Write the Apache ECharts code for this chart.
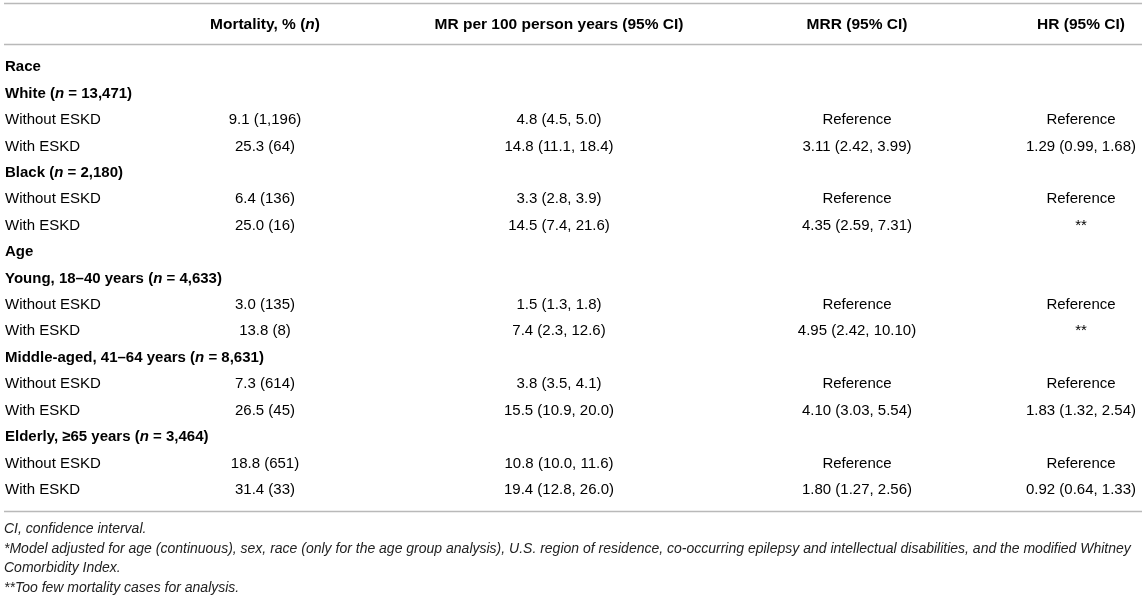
<!DOCTYPE html>
<html>
<head>
<meta charset="utf-8">
<script src="https://cdn.jsdelivr.net/npm/echarts@6/dist/echarts.min.js"></script>
<style>
html, body { margin: 0; padding: 0; background: #fff; }
#main { width: 1146px; height: 600px; }
</style>
</head>
<body>
<div id="main"></div>
<script>
// column titles
var headers = ['', 'Mortality, % (n)', 'MR per 100 person years (95% CI)', 'MRR (95% CI)', 'HR (95% CI)'];

// row labels and their kind
var rowLabels = [
    'Race',
    'White (n = 13,471)', 'Without ESKD', 'With ESKD',
    'Black (n = 2,180)', 'Without ESKD', 'With ESKD',
    'Age',
    'Young, 18–40 years (n = 4,633)', 'Without ESKD', 'With ESKD',
    'Middle-aged, 41–64 years (n = 8,631)', 'Without ESKD', 'With ESKD',
    'Elderly, ≥65 years (n = 3,464)', 'Without ESKD', 'With ESKD'
];
var rowBold = [1, 1, 0, 0, 1, 0, 0, 1, 1, 0, 0, 1, 0, 0, 1, 0, 0];

// values per column
var mortality = ['', '', '9.1 (1,196)', '25.3 (64)', '', '6.4 (136)', '25.0 (16)', '', '', '3.0 (135)', '13.8 (8)', '', '7.3 (614)', '26.5 (45)', '', '18.8 (651)', '31.4 (33)'];
var mrPer100 = ['', '', '4.8 (4.5, 5.0)', '14.8 (11.1, 18.4)', '', '3.3 (2.8, 3.9)', '14.5 (7.4, 21.6)', '', '', '1.5 (1.3, 1.8)', '7.4 (2.3, 12.6)', '', '3.8 (3.5, 4.1)', '15.5 (10.9, 20.0)', '', '10.8 (10.0, 11.6)', '19.4 (12.8, 26.0)'];
var mrr = ['', '', 'Reference', '3.11 (2.42, 3.99)', '', 'Reference', '4.35 (2.59, 7.31)', '', '', 'Reference', '4.95 (2.42, 10.10)', '', 'Reference', '4.10 (3.03, 5.54)', '', 'Reference', '1.80 (1.27, 2.56)'];
var hr = ['', '', 'Reference', '1.29 (0.99, 1.68)', '', 'Reference', '**', '', '', 'Reference', '**', '', 'Reference', '1.83 (1.32, 2.54)', '', 'Reference', '0.92 (0.64, 1.33)'];

var footnotes = [
    'CI, confidence interval.',
    '*Model adjusted for age (continuous), sex, race (only for the age group analysis), U.S. region of residence, co-occurring epilepsy and intellectual disabilities, and the modified Whitney',
    'Comorbidity Index.',
    '**Too few mortality cases for analysis.'
];

var columns = [rowLabels, mortality, mrPer100, mrr, hr];

// layout
var colX = [5, 265, 559, 857, 1081];
var FONT = '"Liberation Sans", Arial, Helvetica, sans-serif';
var TEXT = '#222';

// turn a plain string into rich text, with standalone "n" in italic
function richify(str, bold, head) {
    var parts = str.split(/\b(n)\b/);
    var out = '';
    var pre = head ? 'h' : '';
    for (var i = 0; i < parts.length; i++) {
        if (parts[i] === '') continue;
        if (parts[i] === 'n') {
            out += '{' + pre + (bold ? 'bi' : 'i') + '|n}';
        } else {
            out += '{' + pre + (bold ? 'b' : 'r') + '|' + parts[i] + '}';
        }
    }
    return out;
}

var richStyles = {
    r: { fontFamily: FONT, fontSize: 15, fontWeight: 'normal', color: TEXT },
    i: { fontFamily: FONT, fontSize: 15, fontStyle: 'italic', color: TEXT },
    b: { fontFamily: FONT, fontSize: 15, fontWeight: 'bold', color: TEXT },
    bi: { fontFamily: FONT, fontSize: 15, fontWeight: 'bold', fontStyle: 'italic', color: TEXT },
    hb: { fontFamily: FONT, fontSize: 15.5, fontWeight: 'bold', color: TEXT },
    hbi: { fontFamily: FONT, fontSize: 15.5, fontWeight: 'bold', fontStyle: 'italic', color: TEXT }
};

var rowIdx = rowLabels.map(function (d, i) { return 'r' + i; });

var bodyData = [];
for (var c = 0; c < columns.length; c++) {
    for (var r = 0; r < rowLabels.length; r++) {
        if (columns[c][r] !== '') bodyData.push([colX[c], r, c]);
    }
}
var headData = [];
for (var h = 1; h < headers.length; h++) {
    headData.push([colX[h], 0, h]);
}

function renderBody(params, api) {
    var col = api.value(2), row = api.value(1);
    var pt = api.coord([api.value(0), row]);
    var str = columns[col][row];
    var bold = col === 0 && rowBold[row] === 1;
    return {
        type: 'text',
        x: pt[0],
        y: pt[1],
        style: {
            text: richify(str, bold, false),
            rich: richStyles,
            align: col === 0 ? 'left' : 'center',
            verticalAlign: 'middle'
        }
    };
}

function renderHead(params, api) {
    var col = api.value(2);
    var pt = api.coord([api.value(0), 0]);
    return {
        type: 'text',
        x: pt[0],
        y: pt[1],
        style: {
            text: richify(headers[col], true, true),
            rich: richStyles,
            align: 'center',
            verticalAlign: 'middle'
        }
    };
}

var chart = echarts.init(document.getElementById('main'));

var ruleStyle = { stroke: '#b9b9b9', lineWidth: 1.5 };
var graphics = [
    { type: 'line', shape: { x1: 4, y1: 3.5, x2: 1142, y2: 3.5 }, style: ruleStyle, silent: true },
    { type: 'line', shape: { x1: 4, y1: 44.5, x2: 1142, y2: 44.5 }, style: ruleStyle, silent: true },
    { type: 'line', shape: { x1: 4, y1: 511.5, x2: 1142, y2: 511.5 }, style: ruleStyle, silent: true }
];
var footY = [529.5, 549, 568.5, 588];
footnotes.forEach(function (t, i) {
    graphics.push({
        type: 'text',
        x: 4,
        y: footY[i],
        silent: true,
        style: {
            text: t,
            fill: TEXT,
            font: 'italic 14px ' + FONT,
            verticalAlign: 'middle'
        }
    });
});

var option = {
    animation: false,
    backgroundColor: '#fff',
    grid: [
        { left: 0, right: 0, top: 5, height: 40 },
        { left: 0, right: 0, top: 54, height: 449 }
    ],
    xAxis: [
        { type: 'value', gridIndex: 0, min: 0, max: 1146, show: false },
        { type: 'value', gridIndex: 1, min: 0, max: 1146, show: false }
    ],
    yAxis: [
        { type: 'category', gridIndex: 0, data: ['head'], show: false },
        { type: 'category', gridIndex: 1, data: rowIdx, inverse: true, show: false }
    ],
    series: [
        {
            type: 'custom',
            xAxisIndex: 0,
            yAxisIndex: 0,
            renderItem: renderHead,
            data: headData,
            silent: true
        },
        {
            type: 'custom',
            xAxisIndex: 1,
            yAxisIndex: 1,
            renderItem: renderBody,
            data: bodyData,
            silent: true
        }
    ],
    graphic: graphics
};

chart.setOption(option);
</script>
</body>
</html>
